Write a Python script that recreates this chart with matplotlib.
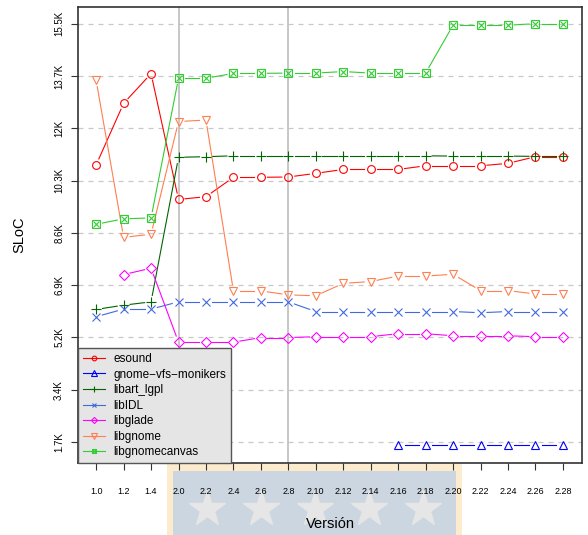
import numpy as np
import matplotlib.pyplot as plt
from matplotlib.lines import Line2D
from matplotlib.patches import Rectangle
from matplotlib.legend_handler import HandlerTuple

plt.rcParams['font.family'] = ['Liberation Sans', 'DejaVu Sans']

nan = np.nan
versions = ['1.0', '1.2', '1.4', '2.0', '2.2', '2.4', '2.6', '2.8', '2.10', '2.12',
            '2.14', '2.16', '2.18', '2.20', '2.22', '2.24', '2.26', '2.28']

esound = [10870, 12900, 13880, 9730, 9820, 10460, 10460, 10470, 10590, 10720,
          10720, 10720, 10840, 10840, 10840, 10920, 11140, 11140]
gnome_vfs_monikers = [nan, nan, nan, nan, nan, nan, nan, nan, nan, nan,
                      nan, 1640, 1640, 1640, 1640, 1640, 1640, 1640]
libart_lgpl = [6100, 6240, 6350, 11120, 11140, 11170, 11170, 11170, 11170, 11170,
               11170, 11170, 11170, 11160, 11160, 11160, 11150, 11150]
libIDL = [5860, 6110, 6110, 6350, 6350, 6350, 6350, 6350, 6030, 6030,
          6030, 6030, 6030, 6030, 5990, 6030, 6030, 6030]
libglade = [nan, 7250, 7460, 5020, 5020, 5020, 5170, 5170, 5200, 5200,
            5200, 5300, 5300, 5230, 5230, 5230, 5200, 5200]
libgnome = [13660, 8480, 8580, 12300, 12350, 6710, 6710, 6580, 6550, 6960,
            7020, 7200, 7200, 7260, 6720, 6720, 6610, 6610]
libgnomecanvas = [8910, 9090, 9120, 13730, 13730, 13890, 13890, 13900, 13900, 13950,
                  13900, 13900, 13900, 15480, 15480, 15480, 15530, 15530]

ytick_values = [1725, 3450, 5175, 6900, 8625, 10350, 12075, 13800, 15525]
ytick_labels = ['1.7K', '3.4K', '5.2K', '6.9K', '8.6K', '10.3K', '12K', '13.7K', '15.5K']
marked_versions = ['2.0', '2.8']

# name, values, colour, marker, marker size
series = [
    ('esound', esound, '#FF0000', 'o', 5.6),
    ('gnome\u2212vfs\u2212monikers', gnome_vfs_monikers, '#0000FF', '^', 6.2),
    ('libart_lgpl', libart_lgpl, '#006400', '+', 7.2),
    ('libIDL', libIDL, '#4169E1', 'x', 5.8),
    ('libglade', libglade, '#FF00FF', 'D', 5.2),
    ('libgnome', libgnome, '#FF7F50', 'v', 6.2),
    ('libgnomecanvas', libgnomecanvas, '#32CD32', 's', 5.8),
]

fig = plt.figure(figsize=(5.88, 5.35), dpi=100)
ax = fig.add_axes([0.1327, 0.1346, 0.8573, 0.8523])
ax.set_xlim(-0.66, 17.70)
ax.set_ylim(1032, 16080)

# background banner below the plot
fig.add_artist(Rectangle((167 / 588, 0), 295 / 588, 71 / 535, transform=fig.transFigure,
                         facecolor='#FCEBCD', edgecolor='none', zorder=-2))
fig.add_artist(Rectangle((173 / 588, 0), 283 / 588, 64 / 535, transform=fig.transFigure,
                         facecolor='#CCD6E1', edgecolor='none', zorder=-2))
for sx in [207, 261, 315, 369, 423]:
    fig.add_artist(Line2D([sx / 588], [26 / 535], transform=fig.transFigure, marker='*',
                          markersize=27, color='#E6E6E6', linestyle='none', zorder=-1))

for yv in ytick_values:
    ax.axhline(yv, color='#C8C8C8', lw=0.9, dashes=(4, 4), zorder=0)
for v in marked_versions:
    ax.axvline(versions.index(v), color='#BEBEBE', lw=1.2, zorder=0)


def draw_series(values, color, gap=6.5):
    # segments between points, stopped short of each marker
    x = np.arange(len(values))
    pts = ax.transData.transform(np.column_stack([x, values]))
    inv = ax.transData.inverted()
    for i in range(len(values) - 1):
        if np.isnan(values[i]) or np.isnan(values[i + 1]):
            continue
        d = pts[i + 1] - pts[i]
        length = np.hypot(*d)
        if length <= 2 * gap:
            continue
        u = d / length
        seg = inv.transform([pts[i] + u * gap, pts[i + 1] - u * gap])
        ax.plot(seg[:, 0], seg[:, 1], color=color, lw=0.8, zorder=2)


handles = []
for name, values, color, marker, ms in series:
    draw_series(values, color)
    x = np.arange(len(values))
    ax.plot(x, values, linestyle='none', marker=marker, markersize=ms,
            markerfacecolor='none', markeredgecolor=color, markeredgewidth=0.8, zorder=3)
    h = Line2D([], [], color=color, lw=0.8, marker=marker, markersize=ms * 0.6,
               markerfacecolor='none', markeredgecolor=color, markeredgewidth=0.8)
    if marker == 's':
        ax.plot(x, values, linestyle='none', marker='x', markersize=ms * 0.75,
                color=color, markeredgewidth=0.8, zorder=3)
        hx = Line2D([], [], linestyle='none', marker='x', markersize=ms * 0.45,
                    color=color, markeredgewidth=0.8)
        h = (h, hx)
    handles.append(h)

ax.set_xticks(np.arange(len(versions)))
ax.set_xticklabels(versions, fontsize=6.5)
ax.set_yticks(ytick_values)
ax.set_yticklabels(ytick_labels, fontsize=7, rotation=90, va='center')
ax.tick_params(axis='x', length=5, width=0.8, pad=12, color='#333333')
ax.tick_params(axis='y', length=5, width=0.8, pad=5, color='#333333')
for sp in ax.spines.values():
    sp.set_linewidth(1.2)
    sp.set_color('#333333')

ax.set_xlabel('Versión', fontsize=10.5)
ax.xaxis.set_label_coords(0.5, -0.118)
ax.set_ylabel('SLoC', fontsize=10.5)
ax.yaxis.set_label_coords(-0.103, 0.5)

leg = ax.legend(handles, [s[0] for s in series], loc='lower left', borderaxespad=0,
                fontsize=8.5, frameon=True, fancybox=False, framealpha=1,
                facecolor='#E5E5E5', edgecolor='#555555', handlelength=1.9,
                handletextpad=0.7, labelspacing=0.3, borderpad=0.4,
                handler_map={tuple: HandlerTuple(ndivide=1)})
leg.get_frame().set_linewidth(1.0)
leg.set_zorder(5)

fig.savefig('out.png', dpi=100)
